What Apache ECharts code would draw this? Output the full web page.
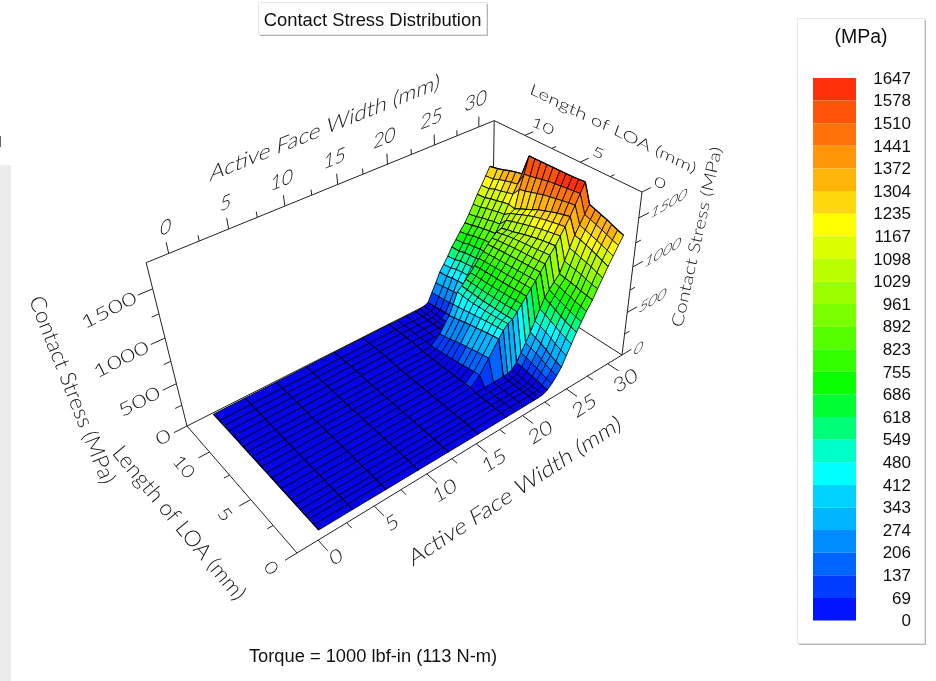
<!DOCTYPE html>
<html><head><meta charset="utf-8">
<style>html,body{margin:0;padding:0;background:#fff}#c{width:936px;height:681px}</style>
<script src="https://cdn.jsdelivr.net/npm/echarts@6/dist/echarts.min.js"></script>
</head><body><div id="c"></div>
<script>
// ---------- data ----------
var widthMm = [0.5,3.5,6.6,9.7,12.7,15.8,18.8,19.8,20.8,21.9,22.4,22.9,23.4,23.9,24.4,24.9,25.4,25.9,26.4,26.9,27.4,28,28.5,29,29.5,30,30.5,31];
var coarseWidthMm = [0.5,3.5,6.6,9.7,12.7,15.8,18.8,21.9,23.4,24.9,26.4,28,29.5,31];
var loaMm = [0.5,1,1.5,1.9,2.4,2.9,3.4,3.9,4.45,5,5.55,6.1,6.7,7.25,7.8,8.35,8.9,9.5,10.1,10.7,11.3,11.9,12.7];
var stressMPa = [
[14,14,13,12,11,10,10,9,9,9,10,14,40,85,145,215,320,425,530,620,710,800,895,985,1080,1165,1250,1330],
[14,14,13,12,11,10,10,10,10,10,12,18,50,100,165,240,345,450,550,635,725,810,905,1005,1105,1190,1270,1350],
[15,15,14,13,12,11,11,11,11,11,14,22,60,120,190,265,370,475,570,655,740,820,925,1030,1130,1210,1295,1375],
[15,15,14,13,13,12,12,12,12,12,16,26,70,140,215,295,400,500,595,675,755,835,940,1045,1150,1230,1315,1395],
[16,16,15,14,14,13,13,13,13,14,18,30,80,160,240,325,430,530,625,695,770,845,955,1060,1170,1250,1335,1415],
[16,16,15,15,15,14,14,14,14,16,22,35,90,175,260,350,455,560,655,720,790,855,965,1080,1190,1270,1355,1435],
[17,17,16,16,16,15,15,16,18,20,26,42,100,185,275,370,475,585,685,745,805,865,980,1095,1205,1290,1375,1455],
[18,18,17,17,17,16,30,120,260,420,490,540,560,620,680,740,800,860,925,990,1060,1130,1210,1285,1365,1460,1555,1650],
[18,18,17,17,17,16,28,112,250,408,480,530,556,616,676,738,798,858,922,985,1052,1120,1198,1272,1348,1450,1548,1645],
[19,19,18,18,18,17,26,100,235,395,470,520,552,612,672,734,794,854,918,980,1044,1110,1185,1258,1330,1438,1540,1640],
[19,19,18,18,18,17,24,88,220,380,460,515,550,608,668,730,790,850,914,975,1036,1095,1170,1244,1310,1425,1532,1638],
[20,20,19,19,19,18,22,76,205,365,448,510,548,606,664,726,786,846,910,970,1028,1080,1155,1228,1285,1410,1524,1636],
[20,20,19,19,19,18,22,66,190,350,436,505,546,604,662,724,784,842,904,964,1020,1060,1135,1210,1260,1395,1514,1635],
[21,21,20,20,20,19,20,56,170,335,425,500,545,602,660,722,782,838,900,956,1010,1040,1115,1185,1225,1375,1500,1633],
[21,21,20,20,20,19,20,46,150,315,410,500,548,604,660,720,778,834,894,948,1000,1020,1095,1160,1195,1355,1485,1632],
[21,21,20,20,20,19,20,38,135,300,400,505,550,604,658,716,774,828,888,938,985,1005,1075,1130,1165,1335,1470,1631],
[22,22,21,21,21,20,20,30,120,280,390,510,552,604,656,712,770,824,880,928,970,985,1050,1105,1130,1320,1460,1630],
[24,26,28,30,32,34,36,30,30,32,35,52,110,210,315,420,500,575,650,730,810,885,970,1055,1145,1235,1320,1410],
[24,26,28,30,32,34,36,30,30,32,35,50,100,200,305,410,490,565,640,720,800,875,960,1045,1130,1215,1305,1395],
[24,26,28,30,32,34,36,30,30,32,35,48,90,190,295,400,480,555,630,705,785,860,940,1025,1110,1195,1285,1375],
[24,26,28,30,32,34,36,30,30,32,34,46,80,180,285,390,470,545,620,695,770,845,925,1010,1095,1180,1265,1350],
[23,25,27,29,31,33,35,30,30,30,33,44,70,170,270,370,445,520,595,670,745,820,900,985,1070,1150,1235,1330],
[22,24,26,28,30,32,34,30,30,30,32,42,60,160,255,360,430,505,590,655,725,800,880,970,1060,1140,1225,1310]
];
var legendValues = [1647,1578,1510,1441,1372,1304,1235,1167,1098,1029,961,892,823,755,686,618,549,480,412,343,274,206,137,69,0];
var legendColors = ['#ff300a','#ff550a','#ff730a','#ff960a','#ffb40a','#ffd70a','#ffff00','#dcff00','#b9ff00','#9bff00','#78ff00','#55ff00','#32ff00','#0aff00','#00ff32','#00ff78','#00ffc8','#00ffff','#00d2ff','#00b4ff','#008cff','#0064ff','#003cff','#0014ff'];
var widthTicks = [0,5,10,15,20,25,30], widthMinorTicks = [2.5,7.5,12.5,17.5,22.5,27.5];
var loaTicks = [0,5,10], loaMinorTicks = [2.5,7.5];
var stressTicks = [0,500,1000,1500], stressMinorTicks = [250,750,1250];

// ---------- view of the 3D box ----------
var box = {w0:-1.8, w1:31.8, l0:0, l1:13, z1:1750};
var floorF=[297,553], floorR=[622,355], floorB=[492,272], floorL=[187,426], topR=[642,192], vanish=[473,1570];
var FLAT_BLUE = '#0505e8', INK = '#1a1a1a', LABEL_FONT = 'Lato,"DejaVu Sans",sans-serif', LABEL_WEIGHT = 300;

var H = (function(){
  var x0=floorF[0],y0=floorF[1],x1=floorR[0],y1=floorR[1],x2=floorB[0],y2=floorB[1],x3=floorL[0],y3=floorL[1];
  var sx=x0-x1+x2-x3, sy=y0-y1+y2-y3, dx1=x1-x2, dx2=x3-x2, dy1=y1-y2, dy2=y3-y2, den=dx1*dy2-dx2*dy1;
  var g=(sx*dy2-dx2*sy)/den, h=(dx1*sy-sx*dy1)/den;
  return {a:x1-x0+g*x1,b:x3-x0+h*x3,c:x0,d:y1-y0+g*y1,e:y3-y0+h*y3,f:y0,g:g,h:h};
})();
var kz = (function(){ var hw=H.g+1; return hw*(topR[1]-floorR[1])/(vanish[1]-topR[1])/box.z1; })();
function project(w,l,z){
  var u=(w-box.w0)/(box.w1-box.w0), v=(l-box.l0)/(box.l1-box.l0), t=kz*z;
  var d=H.g*u+H.h*v+1+t;
  return [(H.a*u+H.b*v+H.c+t*vanish[0])/d, (H.d*u+H.e*v+H.f+t*vanish[1])/d];
}
function bandColor(z){
  var i=Math.floor(z/(1647/24)); if(i<0)i=0; if(i>23)i=23;
  return i===0?FLAT_BLUE:legendColors[23-i];
}

// ---------- axis segments ----------
var W0=box.w0,W1=box.w1,L1=box.l1,Z1=box.z1;
var axisSegs = [
 [W0,L1,0,W0,L1,Z1],[W1,0,0,W1,0,Z1],[W1,L1,0,W1,L1,Z1],
 [W0,L1,Z1,W1,L1,Z1],[W1,L1,Z1,W1,0,Z1],
 [W0,0,0,W1,0,0],[W0,0,0,W0,L1,0],[W0,L1,0,W1,L1,0],[W1,0,0,W1,L1,0]
];
widthTicks.forEach(function(w){axisSegs.push([w,L1,Z1,w,L1,Z1+105]);axisSegs.push([w,0,0,w,-0.95,0]);});
widthMinorTicks.forEach(function(w){axisSegs.push([w,L1,Z1,w,L1,Z1+55]);axisSegs.push([w,0,0,w,-0.5,0]);});
loaTicks.forEach(function(l){axisSegs.push([W0,l,0,W0-1,l,0]);axisSegs.push([W1,l,Z1,W1+1,l,Z1]);});
loaMinorTicks.forEach(function(l){axisSegs.push([W0,l,0,W0-0.5,l,0]);axisSegs.push([W1,l,Z1,W1+0.5,l,Z1]);});
stressTicks.forEach(function(z){axisSegs.push([W0,L1,z,W0-1.2,L1,z]);axisSegs.push([W1,0,z,W1+1.2,0,z]);});
stressMinorTicks.forEach(function(z){axisSegs.push([W0,L1,z,W0-0.6,L1,z]);axisSegs.push([W1,0,z,W1+0.6,0,z]);});

// ---------- surface cells, far to near ----------
var cells=[];
for(var j=loaMm.length-2;j>=0;j--) for(var i=widthMm.length-2;i>=0;i--) cells.push([i,j]);

// ---------- skewed 3D-looking labels ----------
var measure=document.createElement('canvas').getContext('2d');
function textWidth(t,fs){measure.font=LABEL_WEIGHT+' '+fs+'px '+LABEL_FONT;return measure.measureText(t).width;}
var labels=[];
function addLabel(t,p,off,align,deg,up,widthPx,size){labels.push({t:t,x:p[0]+off[0],y:p[1]+off[1],align:align,deg:deg,up:up,w:widthPx,size:size});}
widthTicks.forEach(function(w){
  addLabel(String(w),project(w,L1,Z1),[-3,-26],'center',-22,[0.1,-1],String(w).length*12,15);
  addLabel(String(w),project(w,0,0),[18,17],'center',-33,[-0.45,-1],String(w).length*13,14);
});
loaTicks.forEach(function(l){
  addLabel(String(l),project(W0,l,0),[-26,15],'center',50,[0.75,-0.65],String(l).length*12,13);
  addLabel(String(l),project(W1,l,Z1),[18,-9],'center',25,[0.35,-1],String(l).length*12,10);
});
stressTicks.forEach(function(z){
  addLabel(String(z),project(W0,L1,z),[-17,8],'right',-27,[-0.45,-0.9],String(z).length*15,13);
  addLabel(String(z),project(W1,0,z),[12,-4],'left',-30,[0.3,-1],String(z).length*10.5,12);
});
addLabel('Active Face Width (mm)',[325,128],[0,0],'center',-22,[0.1,-1],248,16);
addLabel('Active Face Width (mm)',[515,491],[0,0],'center',-33.4,[-0.4,-1],251,16);
addLabel('Length of LOA (mm)',[179,523],[0,0],'center',50,[0.77,-0.64],194,16);
addLabel('Contact Stress (MPa)',[72,390],[0,0],'center',68.5,[0.93,-0.37],200,16);
addLabel('Length of LOA (mm)',[613,129],[0,0],'center',26,[0.35,-1],184,11);
addLabel('Contact Stress (MPa)',[697,237],[0,0],'center',-77.5,[-0.97,-0.22],184,12);

function labelElement(o,api){
  var fs=20, tw=textWidth(o.t,fs);
  var a=o.deg*Math.PI/180, sx=o.w/tw, sy=o.size/(fs*0.73);
  var ul=Math.hypot(o.up[0],o.up[1]), vx=o.up[0]/ul, vy=o.up[1]/ul;
  var m00=Math.cos(a)*sx, m10=Math.sin(a)*sx, m01=-vx*sy, m11=-vy*sy;
  var E=(m00+m11)/2,F=(m00-m11)/2,G=(m10+m01)/2,Hh=(m10-m01)/2;
  var Q=Math.hypot(E,Hh),R=Math.hypot(F,G),s1=Q+R,s2=Q-R,a1=Math.atan2(G,F),a2=Math.atan2(Hh,E);
  var theta=(a2-a1)/2,phi=(a2+a1)/2,pos=api.coord([o.x,o.y]);
  return {type:'group',x:pos[0],y:pos[1],rotation:-phi,children:[
    {type:'group',scaleX:s1,scaleY:s2,children:[
      {type:'text',rotation:-theta,silent:true,style:{text:o.t,x:0,y:0,fontSize:fs,fontWeight:LABEL_WEIGHT,fontFamily:LABEL_FONT,fill:INK,align:o.align,verticalAlign:'middle'}}
    ]}
  ]};
}

var legendX0=813,legendX1=856,legendTop=78,legendBottom=620.5;
var chart=echarts.init(document.getElementById('c'),null,{renderer:'canvas'});
chart.setOption({
  animation:false,
  backgroundColor:'#fff',
  title:[
    {text:'Contact Stress Distribution',left:367.5,top:7,textAlign:'center',textStyle:{fontFamily:'"Liberation Sans"',fontSize:18.4,fontWeight:'normal',color:'#111'}},
    {text:'Torque = 1000 lbf-in (113 N-m)',left:368,top:643,textAlign:'center',textStyle:{fontFamily:'"Liberation Sans"',fontSize:18.3,fontWeight:'normal',color:'#111'}},
    {text:'(MPa)',left:856,top:23,textAlign:'center',textStyle:{fontFamily:'"Liberation Sans"',fontSize:19.5,fontWeight:'normal',color:'#111'}}
  ],
  grid:{left:0,top:0,width:936,height:681,show:false},
  xAxis:{type:'value',min:0,max:936,show:false},
  yAxis:{type:'value',min:0,max:681,inverse:true,show:false},
  graphic:[
    {type:'rect',z:-5,shape:{x:0,y:165,width:11,height:516},style:{fill:'#ececec'}},
    {type:'rect',z:-5,shape:{x:0,y:136,width:1,height:11},style:{fill:'#666'}},
    {type:'rect',z:-5,shape:{x:260,y:4,width:228,height:32},style:{fill:'#b4b4b4'}},
    {type:'rect',z:-4,shape:{x:258.5,y:2.5,width:228,height:32},style:{fill:'#fff',stroke:'#e6e6e6',lineWidth:1}},
    {type:'rect',z:-5,shape:{x:799,y:20,width:127,height:625},style:{fill:'#b4b4b4'}},
    {type:'rect',z:-4,shape:{x:797.5,y:18.5,width:127,height:625},style:{fill:'#fff',stroke:'#e6e6e6',lineWidth:1}}
  ],
  series:[
    {type:'custom',name:'axes',coordinateSystem:'cartesian2d',silent:true,clip:false,z:2,data:axisSegs.map(function(_,i){return [i];}),
     renderItem:function(p,api){
       var s=axisSegs[api.value(0)],a=api.coord(project(s[0],s[1],s[2])),b=api.coord(project(s[3],s[4],s[5]));
       return {type:'line',shape:{x1:a[0],y1:a[1],x2:b[0],y2:b[1]},style:{stroke:'#222',lineWidth:1,fill:null}};
     }},
    {type:'custom',name:'Contact Stress',coordinateSystem:'cartesian2d',silent:true,clip:false,z:3,progressive:0,data:cells,
     renderItem:function(p,api){
       var i=api.value(0),j=api.value(1);
       var q=[[i,j],[i+1,j],[i+1,j+1],[i,j+1]].map(function(c){return project(widthMm[c[0]],loaMm[c[1]],stressMPa[c[1]][c[0]]);}).map(function(c){return api.coord(c);});
       var z=(stressMPa[j][i]+stressMPa[j][i+1]+stressMPa[j+1][i]+stressMPa[j+1][i+1])/4;
       var kids=[{type:'polygon',shape:{points:q},style:{fill:bandColor(z),stroke:'#000014',lineWidth:0.85}}];
       if(coarseWidthMm.indexOf(widthMm[i])>=0) kids.push({type:'line',shape:{x1:q[0][0],y1:q[0][1],x2:q[3][0],y2:q[3][1]},style:{stroke:'#000',lineWidth:1.25,fill:null}});
       if(i===widthMm.length-2&&coarseWidthMm.indexOf(widthMm[i+1])>=0) kids.push({type:'line',shape:{x1:q[1][0],y1:q[1][1],x2:q[2][0],y2:q[2][1]},style:{stroke:'#000',lineWidth:1.25,fill:null}});
       return {type:'group',children:kids};
     }},
    {type:'custom',name:'labels',coordinateSystem:'cartesian2d',silent:true,clip:false,z:4,data:labels.map(function(_,i){return [i];}),
     renderItem:function(p,api){return labelElement(labels[api.value(0)],api);}},
    {type:'custom',name:'legend bands',coordinateSystem:'cartesian2d',silent:true,clip:false,z:5,data:legendColors.map(function(_,i){return [i];}),
     renderItem:function(p,api){
       var i=api.value(0),h=(legendBottom-legendTop)/legendColors.length;
       var a=api.coord([legendX0,legendTop+i*h]),b=api.coord([legendX1,legendTop+(i+1)*h]);
       return {type:'rect',shape:{x:a[0],y:a[1],width:b[0]-a[0],height:b[1]-a[1]},style:{fill:legendColors[i]}};
     }},
    {type:'custom',name:'legend labels',coordinateSystem:'cartesian2d',silent:true,clip:false,z:5,data:legendValues.map(function(_,i){return [i];}),
     renderItem:function(p,api){
       var i=api.value(0),h=(legendBottom-legendTop)/legendColors.length,a=api.coord([911,legendTop+i*h+1]);
       return {type:'text',style:{text:String(legendValues[i]),x:a[0],y:a[1],fontFamily:'"Liberation Sans"',fontSize:17,fill:'#111',align:'right',verticalAlign:'middle'}};
     }}
  ]
});
</script></body></html>
